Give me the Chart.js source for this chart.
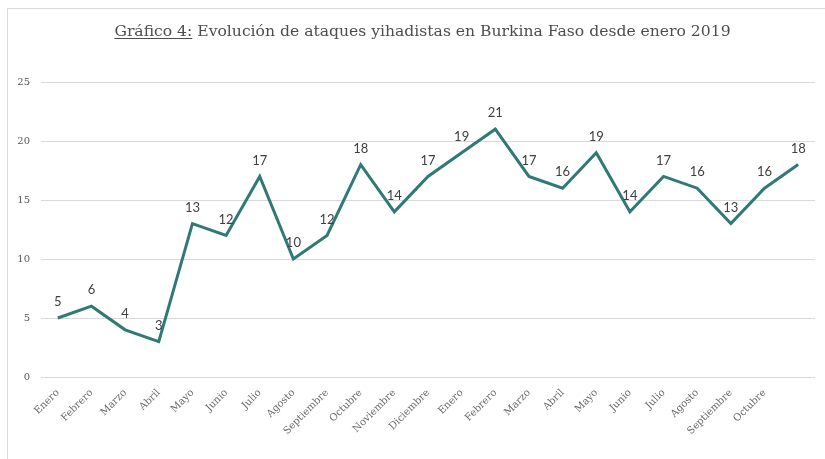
<!DOCTYPE html>
<html>
<head>
<meta charset="utf-8">
<script src="https://cdn.jsdelivr.net/npm/chart.js@4.4.1/dist/chart.umd.min.js"></script>
<style>
  html, body { margin: 0; padding: 0; background: #fff; }
  #wrap { position: relative; width: 825px; height: 459px; overflow: hidden; }
  #frame { position: absolute; left: 7px; top: 8px; width: 840px; height: 470px; border: 1px solid #d9d9d9; box-sizing: border-box; }
  #title { position: absolute; left: 0; width: 845px; top: 22px; text-align: center; font-family: "DejaVu Serif", serif; font-size: 15.6px; color: #4d4d4d; white-space: nowrap; }
  #title u { text-decoration: underline; text-underline-offset: 2px; }
  canvas { position: absolute; left: 0; top: 0; }
</style>
</head>
<body>
<div id="wrap">
  <div id="frame"></div>
  <canvas id="c" width="825" height="459"></canvas>
  <div id="title"><u>Gráfico 4:</u> Evolución de ataques yihadistas en Burkina Faso desde enero 2019</div>
</div>
<script>
const categories = ["Enero","Febrero","Marzo","Abril","Mayo","Junio","Julio","Agosto","Septiembre","Octubre","Noviembre","Diciembre","Enero","Febrero","Marzo","Abril","Mayo","Junio","Julio","Agosto","Septiembre","Octubre",""];
const attacks = [5,6,4,3,13,12,17,10,12,18,14,17,19,21,17,16,19,14,17,16,13,16,18];
const yTicks = [0,5,10,15,20,25];

const valueLabels = {
  id: 'valueLabels',
  afterDatasetsDraw(chart) {
    const ctx = chart.ctx;
    const meta = chart.getDatasetMeta(0);
    ctx.save();
    ctx.font = '13px Lato, "Open Sans", sans-serif';
    ctx.fillStyle = '#404040';
    ctx.textAlign = 'center';
    ctx.textBaseline = 'middle';
    meta.data.forEach((pt, i) => {
      ctx.fillText(String(attacks[i]), pt.x, pt.y - 16);
    });
    ctx.restore();
  }
};

new Chart(document.getElementById('c'), {
  type: 'line',
  data: {
    labels: categories,
    datasets: [{
      data: attacks,
      borderColor: '#2f7a76',
      borderWidth: 3,
      pointRadius: 0,
      tension: 0,
      fill: false
    }]
  },
  options: {
    responsive: false,
    animation: false,
    devicePixelRatio: 1,
    layout: { padding: { left: 0, right: 10, top: 82, bottom: 0 } },
    plugins: { legend: { display: false }, tooltip: { enabled: false }, title: { display: false } },
    scales: {
      x: {
        offset: true,
        grid: { display: false, drawTicks: false },
        border: { display: false },
        afterFit(scale) { scale.height = 82; },
        ticks: {
          autoSkip: false,
          minRotation: 45,
          maxRotation: 45,
          padding: 10,
          color: '#6a6a6a',
          font: { family: '"DejaVu Serif", serif', size: 10 }
        }
      },
      y: {
        min: 0,
        max: 25,
        afterFit(scale) { scale.width = 41; },
        afterBuildTicks(scale) { scale.ticks = yTicks.map(v => ({ value: v })); },
        grid: { color: '#d9d9d9', lineWidth: 1, drawTicks: false },
        border: { display: false },
        ticks: {
          padding: 11,
          color: '#595959',
          font: { family: '"DejaVu Serif", serif', size: 10 }
        }
      }
    }
  },
  plugins: [valueLabels]
});
</script>
</body>
</html>
